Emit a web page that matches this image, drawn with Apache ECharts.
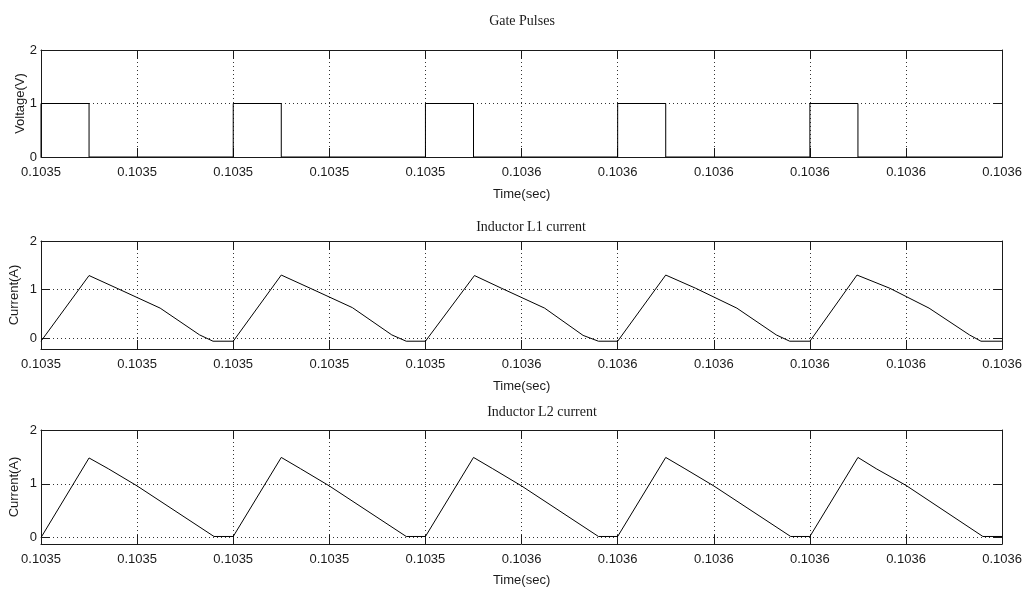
<!DOCTYPE html>
<html>
<head>
<meta charset="utf-8">
<title>Gate Pulses and Inductor Currents</title>
<script src="https://cdn.jsdelivr.net/npm/echarts@6/dist/echarts.min.js"></script>
<style>
  html, body { margin: 0; padding: 0; background: #fff; }
  #chart { width: 1025px; height: 592px; }
</style>
</head>
<body>
<div id="chart"></div>
<script>
// time is in microseconds after t = 0.1035 s
var xTickLabels = ['0.1035', '0.1035', '0.1035', '0.1035', '0.1035', '0.1036',
  '0.1036', '0.1036', '0.1036', '0.1036', '0.1036'];
var yTickValues = [0, 1, 2];

var panelTitles = ['Gate Pulses', 'Inductor L1 current', 'Inductor L2 current'];
var panelYNames = ['Voltage(V)', 'Current(A)', 'Current(A)'];
var panelYMin = [0, -0.22, -0.12];

var gateTime = [0, 0, 5, 5, 20, 20, 25, 25, 40, 40, 45, 45, 60, 60, 65, 65, 80, 80, 85, 85, 100];
var gateVolt = [0, 1, 1, 0, 0, 1, 1, 0, 0, 1, 1, 0, 0, 1, 1, 0, 0, 1, 1, 0, 0];

var l1Time = [0, 5, 8, 12.4, 16.5, 17.9,
  20, 25, 28, 32.4, 36.5, 38.0,
  40, 45.1, 47.9, 52.4, 56.4, 58.0,
  60, 65, 68.1, 72.4, 76.5, 77.9,
  80, 84.9, 88.3, 92.4, 96.6, 97.8, 100];
var l1Curr = [-0.06, 1.29, 1.02, 0.62, 0.07, -0.06,
  -0.06, 1.30, 1.03, 0.63, 0.07, -0.06,
  -0.06, 1.29, 1.03, 0.62, 0.06, -0.06,
  -0.06, 1.30, 1.03, 0.62, 0.07, -0.06,
  -0.06, 1.30, 1.03, 0.62, 0.07, -0.06, -0.06];

var l2Time = [0, 5, 7, 10, 18,
  20, 25, 27, 30, 38,
  40, 45, 47, 50, 58,
  60, 65, 67, 70, 78,
  80, 85, 86.9, 90, 98, 100];
var l2Curr = [0.0, 1.48, 1.28, 0.96, 0.02,
  0.02, 1.49, 1.28, 0.96, 0.02,
  0.02, 1.49, 1.28, 0.96, 0.02,
  0.02, 1.49, 1.28, 0.96, 0.02,
  0.02, 1.49, 1.28, 0.97, 0.02, 0.02];

;(function () {
  'use strict';

  var LABEL_FONT = "'Liberation Sans', Arial, sans-serif";
  var TITLE_FONT = "'Liberation Serif', 'DejaVu Serif', serif";
  var INK = '#1a1a1a';

  var grids = [
    { left: 41, right: 20, top: 50, height: 107 },
    { left: 41, right: 20, top: 241, height: 108 },
    { left: 41, right: 20, top: 430, height: 114 }
  ];
  var titleTops = [9, 215, 400];
  var titleCenters = [517, 526, 537];
  var xNameGaps = [31, 31, 30];
  var yNameGaps = [14, 20, 20];

  var chart = echarts.init(document.getElementById('chart'));
  chart.setOption(buildOptions());

  function pairs(xs, ys) {
    return xs.map(function (x, i) { return [x, ys[i]]; });
  }

  function buildOptions() {
    var options = {
      animation: false,
      backgroundColor: '#fff',
      title: [],
      grid: [],
      xAxis: [],
      yAxis: [],
      series: []
    };
    var seriesData = [
      pairs(gateTime, gateVolt),
      pairs(l1Time, l1Curr),
      pairs(l2Time, l2Curr)
    ];

    grids.forEach(function (g, i) {
      options.title.push({
        text: panelTitles[i],
        left: titleCenters[i],
        top: titleTops[i],
        textAlign: 'center',
        textStyle: { fontFamily: TITLE_FONT, fontSize: 14, fontWeight: 'normal', color: INK }
      });
      options.grid.push(g);

      options.xAxis.push(xAxis(i, 'bottom'), xAxis(i, 'top'));
      options.yAxis.push(yAxis(i, 'left'), yAxis(i, 'right'));

      options.series.push({
        type: 'line',
        xAxisIndex: i * 2,
        yAxisIndex: i * 2,
        data: seriesData[i],
        showSymbol: false,
        lineStyle: { color: '#000', width: 1 },
        silent: true
      });
    });

    return options;
  }

  function xAxis(i, position) {
    var main = position === 'bottom';
    return {
      type: 'value',
      gridIndex: i,
      position: position,
      min: 0,
      max: 100,
      interval: 10,
      name: main ? 'Time(sec)' : '',
      nameLocation: 'middle',
      nameGap: xNameGaps[i],
      nameMoveOverlap: false,
      nameTextStyle: { fontFamily: LABEL_FONT, fontSize: 13, color: INK },
      axisLine: { show: true, onZero: false, lineStyle: { color: INK, width: 1 } },
      axisTick: { show: true, inside: true, length: 9, lineStyle: { color: INK } },
      axisLabel: {
        show: main,
        margin: 9,
        fontFamily: LABEL_FONT,
        fontSize: 13,
        color: INK,
        formatter: function (v) {
          return xTickLabels[Math.round(v / 10)];
        }
      },
      splitLine: {
        show: main,
        lineStyle: { color: '#333', width: 1, type: [1, 3] }
      }
    };
  }

  function yAxis(i, position) {
    var main = position === 'left';
    return {
      type: 'value',
      gridIndex: i,
      position: position,
      min: panelYMin[i],
      max: 2,
      name: main ? panelYNames[i] : '',
      nameLocation: 'middle',
      nameGap: yNameGaps[i],
      nameMoveOverlap: false,
      nameTextStyle: { fontFamily: LABEL_FONT, fontSize: 13, color: INK },
      axisLine: { show: true, onZero: false, lineStyle: { color: INK, width: 1 } },
      axisTick: {
        show: true,
        inside: true,
        length: 9,
        customValues: yTickValues,
        lineStyle: { color: INK }
      },
      axisLabel: {
        show: main,
        margin: 4,
        fontFamily: LABEL_FONT,
        fontSize: 13,
        color: INK,
        customValues: yTickValues
      },
      splitLine: {
        show: main,
        lineStyle: { color: '#333', width: 1, type: [1, 3] }
      }
    };
  }
})();
</script>
</body>
</html>
